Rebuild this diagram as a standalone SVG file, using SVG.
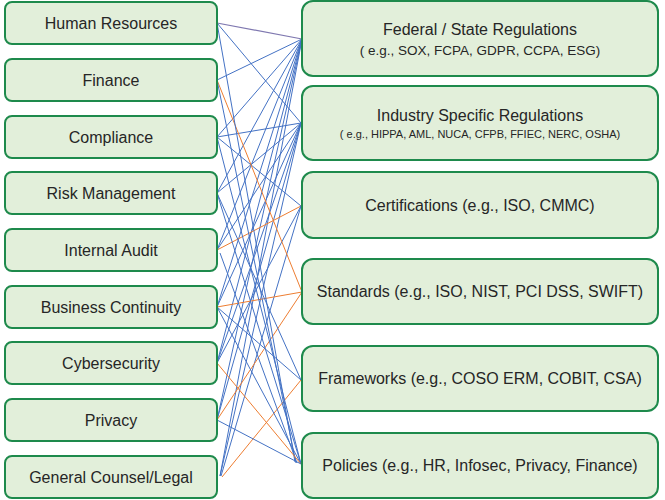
<svg xmlns="http://www.w3.org/2000/svg" width="665" height="500" viewBox="0 0 665 500">
<style>
.n rect{fill:#e2efda;stroke:#1e8a4c;stroke-width:2}
.n text{font-family:"Liberation Sans",Arial,sans-serif;font-size:16px;fill:#262626;text-anchor:middle}
.n text.s{font-size:13.5px}
.n text.xs{font-size:11px}
.b{stroke:#4472c4;stroke-width:1;fill:none}
.o{stroke:#ed7d31;stroke-width:1;fill:none}
.p{stroke:#7f78b0;stroke-width:1.2;fill:none}
</style>
<rect width="665" height="500" fill="#fff"/>
<g id="connectors">
<line class="p" x1="217" y1="23" x2="302" y2="39"/>
<line class="b" x1="217" y1="80" x2="302" y2="39"/>
<line class="b" x1="217" y1="137" x2="302" y2="39"/>
<line class="b" x1="217" y1="193" x2="302" y2="39"/>
<line class="b" x1="217" y1="250" x2="302" y2="39"/>
<line class="b" x1="217" y1="307" x2="302" y2="39"/>
<line class="b" x1="217" y1="363" x2="302" y2="39"/>
<line class="b" x1="217" y1="420" x2="302" y2="39"/>
<line class="b" x1="220" y1="476" x2="302" y2="39"/>
<line class="b" x1="217" y1="23" x2="301" y2="123"/>
<line class="b" x1="217" y1="137" x2="301" y2="123"/>
<line class="b" x1="217" y1="193" x2="301" y2="123"/>
<line class="b" x1="217" y1="250" x2="301" y2="123"/>
<line class="b" x1="217" y1="307" x2="301" y2="123"/>
<line class="b" x1="217" y1="363" x2="301" y2="123"/>
<line class="b" x1="217" y1="420" x2="301" y2="123"/>
<line class="b" x1="220" y1="476" x2="301" y2="123"/>
<line class="b" x1="217" y1="137" x2="301" y2="206"/>
<line class="o" x1="217" y1="250" x2="301" y2="206"/>
<line class="b" x1="217" y1="363" x2="301" y2="206"/>
<line class="b" x1="221" y1="476" x2="301" y2="206"/>
<line class="o" x1="217" y1="80" x2="302" y2="292"/>
<line class="o" x1="217" y1="307" x2="302" y2="292"/>
<line class="o" x1="217" y1="420" x2="302" y2="292"/>
<line class="b" x1="217" y1="307" x2="301" y2="380"/>
<line class="b" x1="217" y1="193" x2="301" y2="380"/>
<line class="o" x1="222" y1="477" x2="301" y2="380"/>
<line class="b" x1="217" y1="23" x2="295" y2="462"/>
<line class="b" x1="217" y1="80" x2="296" y2="463"/>
<line class="b" x1="217" y1="137" x2="301" y2="464"/>
<line class="b" x1="217" y1="193" x2="301" y2="464"/>
<line class="b" x1="220" y1="253" x2="297" y2="463"/>
<line class="b" x1="217" y1="307" x2="301" y2="464"/>
<line class="o" x1="217" y1="363" x2="301" y2="464"/>
<line class="b" x1="217" y1="420" x2="301" y2="464"/>
</g>
<g id="hr" class="n"><rect x="5" y="2" width="212" height="42" rx="7"/><text x="111" y="29">Human Resources</text></g>
<g id="finance" class="n"><rect x="5" y="59" width="212" height="42" rx="7"/><text x="111" y="86">Finance</text></g>
<g id="compliance" class="n"><rect x="5" y="116" width="212" height="42" rx="7"/><text x="111" y="143">Compliance</text></g>
<g id="risk" class="n"><rect x="5" y="172" width="212" height="42" rx="7"/><text x="111" y="199">Risk Management</text></g>
<g id="audit" class="n"><rect x="5" y="229" width="212" height="42" rx="7"/><text x="111" y="256">Internal Audit</text></g>
<g id="bc" class="n"><rect x="5" y="286" width="212" height="42" rx="7"/><text x="111" y="313">Business Continuity</text></g>
<g id="cyber" class="n"><rect x="5" y="342" width="212" height="42" rx="7"/><text x="111" y="369">Cybersecurity</text></g>
<g id="privacy" class="n"><rect x="5" y="399" width="212" height="42" rx="7"/><text x="111" y="426">Privacy</text></g>
<g id="legal" class="n"><rect x="5" y="456" width="212" height="42" rx="7"/><text x="111" y="483">General Counsel/Legal</text></g>
<g id="federal" class="n"><rect x="302" y="1" width="356" height="75" rx="11"/><text x="480" y="35">Federal / State Regulations</text><text class="s" x="480" y="55">( e.g., SOX, FCPA, GDPR, CCPA, ESG)</text></g>
<g id="industry" class="n"><rect x="302" y="86" width="356" height="74" rx="11"/><text x="480" y="121">Industry Specific Regulations</text><text class="xs" x="480" y="138">( e.g., HIPPA, AML, NUCA, CFPB, FFIEC, NERC, OSHA)</text></g>
<g id="cert" class="n"><rect x="302" y="172" width="356" height="66" rx="11"/><text x="480" y="211">Certifications (e.g., ISO, CMMC)</text></g>
<g id="standards" class="n"><rect x="302" y="259" width="356" height="65" rx="11"/><text x="480" y="297">Standards (e.g., ISO, NIST, PCI DSS, SWIFT)</text></g>
<g id="frameworks" class="n"><rect x="302" y="346" width="356" height="65" rx="11"/><text x="480" y="384">Frameworks (e.g., COSO ERM, COBIT, CSA)</text></g>
<g id="policies" class="n"><rect x="302" y="433" width="356" height="65" rx="11"/><text x="480" y="471">Policies (e.g., HR, Infosec, Privacy, Finance)</text></g>
</svg>
